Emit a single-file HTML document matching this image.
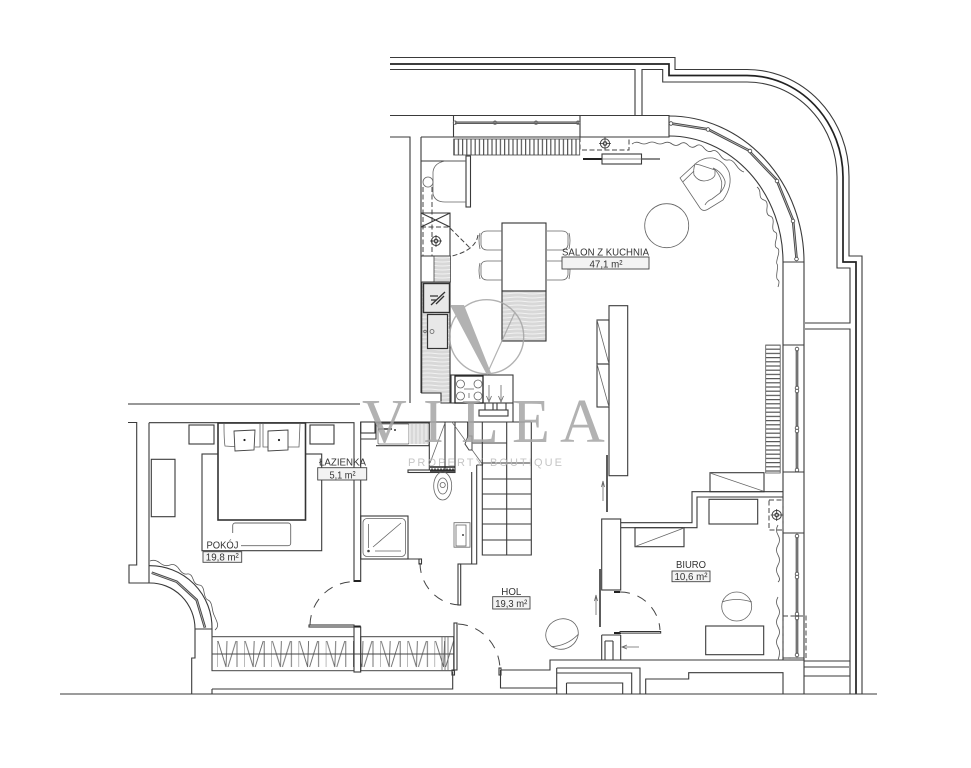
<!DOCTYPE html>
<html><head><meta charset="utf-8"><style>
html,body{margin:0;padding:0;background:#fff}
svg{display:block}
.l{fill:none;stroke:#3a3a3a;stroke-width:1.1}
.t{fill:none;stroke:#222;stroke-width:1.7}
.f{fill:none;stroke:#666;stroke-width:.8}
.d{fill:none;stroke:#444;stroke-width:1;stroke-dasharray:10 8}
.s{fill:none;stroke:#444;stroke-width:1;stroke-dasharray:5 2.5}
.w{fill:none;stroke:#555;stroke-width:.8}
text{font-family:"Liberation Sans",sans-serif;fill:#333;font-size:10.5px}
</style></head><body>
<svg width="971" height="768" viewBox="0 0 971 768" xmlns="http://www.w3.org/2000/svg">
<defs>
<pattern id="hv" width="4.2" height="8" patternUnits="userSpaceOnUse"><rect width="4.2" height="8" fill="#fff"/><rect width="1.2" height="8" fill="#555"/></pattern>
<pattern id="hh" width="8" height="4.2" patternUnits="userSpaceOnUse"><rect width="8" height="4.2" fill="#fff"/><rect width="8" height="1.2" fill="#555"/></pattern>
<pattern id="tx" width="30" height="4" patternUnits="userSpaceOnUse"><rect width="30" height="4" fill="#d8d8d8"/><path d="M0 1.500 Q8 .5 15 1.500 T30 1.500" fill="none" stroke="#f2f2f2" stroke-width="1"/></pattern>
<pattern id="txv" width="4" height="30" patternUnits="userSpaceOnUse"><rect width="4" height="30" fill="#d8d8d8"/><rect x="1.500" width="1" height="30" fill="#f5f5f5"/></pattern>
<pattern id="zz" x="217" width="27.2" height="40" y="636" patternUnits="userSpaceOnUse"><path d="M0 5V31M1 5L9 31L10 5M11 31L19 5M20 5V31" fill="none" stroke="#666" stroke-width=".9"/></pattern>
<g id="sym"><circle r="4.600" fill="none" stroke="#444"/><circle r="2.400" fill="#555"/><path d="M-6 0H6M0-6V6" stroke="#333" stroke-width=".8"/><circle r="1" fill="#ddd"/></g>
<g id="chair"><path d="M22 1H7Q2 1 1 5V15Q2 20 7 20H22" class="f"/><path d="M0 3Q-2 10 0 19" class="f"/></g>
</defs>

<!-- outer terrace lines -->
<path class="l" d="M390 57.500H675V69.500H747A102 107 0 0 1 849 177V256H862V694"/>
<path class="t" d="M390 64H669V75.500H747A96 102 0 0 1 843 177V262H856V694"/>
<path class="l" d="M390 69.500H635V115M642 115V69.500H662.700V82H747A90 95 0 0 1 837 177V268H850V323H805M805 329H850V661H804"/>

<!-- top wall -->
<path class="l" d="M390 115.500H669V137H421M390 137H410V403"/>
<path class="l" d="M453.500 115.500V137M580 115.500V137"/>
<path d="M455 122.700H579" stroke="#444" stroke-width="2.400"/>
<path d="M455 122.700H579" stroke="#aaa" stroke-width=".7"/>
<circle cx="455" cy="122.700" r="1.800" class="f" fill="#fff"/><circle cx="495" cy="122.700" r="1.800" class="f"/><circle cx="536" cy="122.700" r="1.800" class="f"/><circle cx="578" cy="122.700" r="1.800" class="f"/>
<rect x="453.700" y="139" width="126" height="16" fill="url(#hv)" stroke="#444" stroke-width=".8"/>
<path class="s" d="M580 137V150H629V137"/>
<use href="#sym" x="605" y="143.500"/>
<path d="M583 159H602" stroke="#222" stroke-width="2"/><path d="M642 159H660" stroke="#444" stroke-width="1.200"/>
<rect x="602" y="154" width="39.500" height="10" class="l"/><path d="M602 159H642" stroke="#666" stroke-width=".7"/>

<!-- curved wall -->
<path class="l" d="M669 116A135 146 0 0 1 804 262M669 136A114 126 0 0 1 783 262"/>
<path d="M670 123.300L708 129.300L748 150L776.700 180L793 220L796.700 260" fill="none" stroke="#444" stroke-width="2.600"/>
<path d="M670 123.300L708 129.300L748 150L776.700 180L793 220L796.700 260" fill="none" stroke="#bbb" stroke-width=".8"/>
<g fill="#fff" stroke="#444" stroke-width=".8"><circle cx="671" cy="123.500" r="1.800"/><circle cx="708" cy="129.500" r="1.800"/><circle cx="750" cy="151" r="1.800"/><circle cx="777" cy="181" r="1.800"/><circle cx="793" cy="221" r="1.800"/><circle cx="796.500" cy="259" r="1.800"/></g>
<path class="w" d="M632 144Q636 141 640 143T648 143T656 143T664 143T672 144T680 144T688 145T696 146T704 148T712 151T720 155T728 160T736 165T744 172"/>
<path class="w" d="M757 187Q760 189 760 194T764 200T767 208T770 216T773 224T775 232T776 240T777 248T778 256T777 264T777 272T778 280T778 287"/>

<!-- right wall -->
<path class="l" d="M783 262V660M804 262V694M783 262H804M783 345H804M783 472H804M783 533H804M783 658H804"/>
<path d="M797 348V470M797 535V656" stroke="#444" stroke-width="2.600"/><path d="M797 348V470M797 535V656" stroke="#bbb" stroke-width=".8"/>
<g fill="#fff" stroke="#444" stroke-width=".8"><circle cx="797" cy="349" r="1.800"/><circle cx="797" cy="388" r="1.800"/><circle cx="797" cy="391" r="1.800"/><circle cx="797" cy="428" r="1.800"/><circle cx="797" cy="431" r="1.800"/><circle cx="797" cy="470" r="1.800"/><circle cx="797" cy="536" r="1.800"/><circle cx="797" cy="574" r="1.800"/><circle cx="797" cy="577" r="1.800"/><circle cx="797" cy="614" r="1.800"/><circle cx="797" cy="618" r="1.800"/><circle cx="797" cy="655" r="1.800"/></g>
<rect x="783" y="616" width="23" height="42" class="s"/>
<rect x="765.700" y="345" width="14.500" height="128" fill="url(#hh)" stroke="#555" stroke-width=".8"/>

<!-- circle table -->
<circle cx="666.700" cy="225.700" r="22" class="f" stroke-width="1"/>
<!-- armchair -->
<path class="f" d="M680 178L696.700 162.700Q704 157 713 158Q724 161 729 172Q733 186 723 200L707.500 209.500Q703 212 700 208Z"/>
<path class="f" d="M683 181.700L694 171M705 205Q707 201 712 199L720 193Q726 186 725 181Q722 172 713 168"/>
<path class="f" d="M713 168Q720 174 721.700 182Q722 188 720 193"/>
<path class="f" d="M695 164Q693 170 694 175Q698 181 704 181Q713 180 715 175V170L700 165Z"/>

<!-- kitchen -->
<path class="l" d="M421 137V393"/>
<path class="l" d="M421 161H466"/>
<rect x="466" y="156" width="4.500" height="51" class="l"/>
<path class="f" d="M466 161H445Q434 163 433 172V194Q435 202 445 202H466"/>
<circle cx="428" cy="182" r="5" class="f" stroke="#444"/>
<path class="s" d="M423 187V256M432 187V256M421 227H450"/>
<path class="l" d="M421 213H450V256H421M421 213L450 227M421 227L450 213"/>
<use href="#sym" x="436" y="241"/>
<path class="s" d="M450 228L470 248"/><path class="s" d="M478 235Q476 250 452 256"/>
<rect x="434" y="256" width="16.500" height="26" fill="url(#tx)" stroke="#444" stroke-width=".8"/>
<path d="M421.700 282H450V403H441V393H421.700Z" fill="url(#tx)" stroke="#333" stroke-width="1.100"/>
<rect x="423.500" y="283.500" width="26" height="29" fill="#e8e8e8" stroke="#333" stroke-width="1.400"/>
<path d="M431 305L445 292M436 304L444 296M430 296H438M431 300H436" stroke="#333" stroke-width="1.300"/>
<rect x="427.500" y="314.500" width="20" height="34" fill="#e8e8e8" stroke="#333" stroke-width="1.200"/>
<circle cx="432" cy="331.500" r="2" class="f"/><circle cx="425" cy="331.500" r="1.300" class="f"/>
<rect x="451" y="375" width="62" height="28" fill="#fff" class="l"/>
<rect x="455" y="376" width="28" height="27" fill="#fff" stroke="#222" stroke-width="1.300"/>
<g class="f"><circle cx="460.500" cy="384" r="4"/><circle cx="478" cy="384" r="4"/><circle cx="460.500" cy="396" r="4"/><circle cx="478" cy="396" r="4"/><path d="M464 389H474M469 393V398"/></g>
<path class="f" d="M489 385V400M486.500 396L489 402L491.500 396M501 385V400M498.500 396L501 402L503.500 396"/>
<rect x="479" y="410" width="29" height="6" class="l"/>
<path class="l" d="M485 403V410M493 403V410M497 403V410M506 403V410M513 403V422"/>

<!-- dining -->
<rect x="502" y="223" width="44" height="68" fill="#fff" stroke="#333" stroke-width="1.100"/>
<rect x="502" y="291" width="44" height="50" fill="url(#tx)" stroke="#333" stroke-width="1.100"/>
<use href="#chair" x="480" y="230"/><use href="#chair" x="480" y="260"/>
<use href="#chair" transform="translate(569 230) scale(-1 1)"/><use href="#chair" transform="translate(569 260) scale(-1 1)"/>

<!-- tv unit -->
<rect x="609" y="305.700" width="18.700" height="170" fill="#fff" class="l"/>
<rect x="597" y="320" width="12" height="44" class="l"/><rect x="597" y="364" width="12" height="43" class="l"/>
<path class="f" d="M597 320L609 364M597 364L609 407"/>
<path d="M607 455V512" stroke="#333" stroke-width="1.600"/>
<path class="f" d="M603 501V483M601.500 487L603 481L604.500 487"/>

<!-- middle wall -->
<path class="l" d="M361 422H531"/>
<path d="M128 404H360" stroke="#777" stroke-width="1.400"/>
<path class="l" d="M128 422.500H136.700V565H129V583H149M149 422.700H354V582M149 422.700V583"/>
<!-- bedroom curved -->
<path class="l" d="M149 565.700A62 62 0 0 1 212 629H195M149 583A45 46 0 0 1 195 629"/>
<path d="M151.700 572.700L176.700 581.700L196.700 600L205 627.700" fill="none" stroke="#444" stroke-width="2.600"/>
<path d="M151.700 572.700L176.700 581.700L196.700 600L205 627.700" fill="none" stroke="#bbb" stroke-width=".8"/>
<path class="w" d="M150 561Q155 559 160 563T170 565T179 569T187 574T193 579T199 585T204 592T208 600T212 607T214 615T217 622T215 630"/>
<path class="l" d="M195 629V658H191.700V694H60M212 629V671"/>

<!-- bed -->
<rect x="202" y="454" width="119.700" height="96.700" class="l"/>
<rect x="218" y="423" width="87.500" height="97" fill="#fff" stroke="#333" stroke-width="1.600"/>
<rect x="189" y="425" width="25" height="19" class="l"/><rect x="310" y="425" width="24" height="19" class="l"/>
<path class="f" d="M224 424Q224 440 225 446L240 447M255 447H260V424M263 424V447H268M288 447H299L300 424"/>
<g fill="#fff" stroke="#444" stroke-width=".9"><path d="M234 431L255 430L254 450L235 451Z"/><path d="M268 431L288 430L288 450L268 451Z"/></g>
<circle cx="244.500" cy="440" r="1.100" fill="#222"/><circle cx="279" cy="440" r="1.100" fill="#222"/>
<rect x="232.700" y="523" width="58" height="22.700" rx="2.500" fill="#fff" stroke="#666" stroke-width=".9"/>
<rect x="151.300" y="459.300" width="23.700" height="57.400" class="l"/>
<rect x="203" y="533" width="38" height="15" fill="#fff"/>
<rect x="203" y="551.700" width="38.700" height="10.600" fill="#f3f3f3" stroke="#444" stroke-width=".9"/>
<text x="206.500" y="548.500" textLength="32" lengthAdjust="spacingAndGlyphs">POKÓJ</text>
<text x="222.300" y="560.500" text-anchor="middle" textLength="33" lengthAdjust="spacingAndGlyphs">19,8 m²</text>

<!-- wardrobe -->
<rect x="212" y="636.700" width="142" height="34" fill="url(#zz)" stroke="#444" stroke-width="1"/>
<rect x="360.700" y="636.700" width="93" height="34" fill="url(#zz)" stroke="#444" stroke-width="1"/>
<path d="M212 654H454" stroke="#444" stroke-width=".9"/>
<path class="f" d="M442 637V671M445 637V671M448 637V671"/>
<rect x="354" y="627" width="6.700" height="45" fill="#fff" class="l"/>
<path d="M354 626.500H360.700" stroke="#222" stroke-width="2"/>
<rect x="309" y="625" width="45" height="2" class="l"/>
<path class="d" d="M310 625A44 44 0 0 1 353 581.700"/>
<path d="M354 581H360.700" stroke="#222" stroke-width="2"/>
<rect x="454" y="623" width="3" height="47" class="l"/>
<path class="d" d="M458 624A44 46 0 0 1 500 669"/>
<rect x="499" y="668" width="2" height="7" class="l"/>
<rect x="452" y="670" width="2.500" height="5" class="l"/>
<path class="l" d="M212 689H452.700V671.700M212 689V694H452M60 694H877"/>

<!-- bottom structure -->
<path class="l" d="M500.500 670V688H556.700M500.500 670H550V660H804M556.700 668V694M556.700 668H640V694M566.500 683V694M566.500 683H622.700V694M631.700 694V673H556.700"/>
<path class="l" d="M645.700 694V679H688.700V672.700H783V694"/>
<path class="l" d="M804 667H849M804 676H850"/>
<path class="l" d="M850 661V694"/>

<!-- bathroom -->
<path class="l" d="M360.700 422V582"/>
<rect x="360.700" y="422" width="14.300" height="11" class="l"/>
<path class="l" d="M360.700 439H376V422"/>
<path d="M376 423H429V445.700H376" fill="#fff" class="l"/>
<rect x="378" y="424" width="31" height="20" rx="1" class="f"/>
<rect x="409" y="424" width="20" height="20" fill="url(#txv)"/>
<path d="M378 429H392" stroke="#333" stroke-width="1.500"/><circle cx="395" cy="430" r="1" fill="#333"/>
<path class="l" d="M429.300 422V470M445 422V470M455 422V470"/>
<path class="f" d="M430 463L445 423M451.700 421.700L483 465"/>
<path d="M430 467H455M430 471H455" stroke="#222" stroke-width="1.500"/>
<path d="M431 469H454" stroke="#555" stroke-dasharray="2 1"/>
<rect x="408" y="470" width="47" height="2.500" class="l"/>
<path d="M468 422V437" stroke="#222" stroke-width="1.600"/>
<path d="M468 436L465 444L469 450L472 450V436Z" fill="#fff" stroke="#444" stroke-width="1"/>
<path class="l" d="M476.700 465V564H460M471.700 472V564M476.700 465H483"/>
<path class="l" d="M360.700 559H420.700"/>
<rect x="419" y="559" width="2.500" height="5" class="l"/>
<rect x="458" y="564" width="2.700" height="41" class="l"/>
<path class="d" d="M420 563A41 42 0 0 0 460 605"/>
<rect x="360.700" y="516" width="47.300" height="43" class="l"/>
<rect x="363" y="518.500" width="42.500" height="38" rx="4" class="f"/>
<path class="f" d="M368.500 524V548M373 547L401 523M375 551H401"/>
<circle cx="368.500" cy="551" r="1.300" fill="#444"/>
<ellipse cx="442.700" cy="486" rx="9" ry="14" class="f" stroke="#444"/><ellipse cx="442.700" cy="486" rx="5" ry="8" class="f"/><circle cx="442.700" cy="485" r="2.600" class="f"/>
<rect x="454" y="522.700" width="16" height="24.500" class="f"/><rect x="456" y="525" width="10" height="21" class="f" stroke="#333" stroke-width="1"/>
<circle cx="463" cy="535" r="1" fill="#444"/>

<!-- stairs -->
<path class="l" d="M531.300 422V555H482.300V443M506.700 422V555M472.700 443H506.700M482.300 422V443"/>
<path class="l" d="M482.300 463H531.300M482.300 479H531.300M482.300 494H531.300M482.300 509H531.300M482.300 524H531.300M482.300 540H531.300"/>

<!-- hol chair -->
<g transform="rotate(-25 562 634)"><ellipse cx="562" cy="634" rx="16.500" ry="15" class="f" stroke="#444"/><path class="f" d="M547 641Q562 647 577 641"/></g>
<rect x="492.700" y="596.700" width="37.300" height="12.300" fill="#f3f3f3" stroke="#444" stroke-width=".9"/>
<text x="511.300" y="595" text-anchor="middle" textLength="20" lengthAdjust="spacingAndGlyphs">HOL</text>
<text x="511.300" y="607" text-anchor="middle" textLength="32" lengthAdjust="spacingAndGlyphs">19,3 m²</text>

<!-- biuro -->
<path d="M600 569V627" stroke="#333" stroke-width="1.600"/>
<path class="f" d="M596 615V597M594.500 601L596 595L597.500 601"/>
<rect x="601.700" y="519" width="19" height="71" fill="#fff" class="l"/>
<path class="l" d="M620.700 522.700H692V491.700H783M620.700 527.700H697V497H783"/>
<rect x="710" y="472.700" width="54" height="19" class="l"/><path class="f" d="M710 473L763 491"/>
<rect x="635" y="527.700" width="49" height="19" class="l"/><path class="f" d="M635 546.500L684 528"/>
<rect x="709" y="499.300" width="48.700" height="24.700" class="l"/>
<rect x="769" y="500" width="14" height="30" class="s"/>
<use href="#sym" x="776.700" y="515"/>
<rect x="705.700" y="626" width="58" height="28.700" class="l"/>
<ellipse cx="736.700" cy="606.500" rx="15" ry="14.500" class="f" stroke="#444"/>
<path class="f" d="M722 602Q736 597 752 602"/>
<path class="l" d="M601.700 635V660M620.700 635V660M601.700 635H620.700M605 641V660M613 641V660M605 641H613"/>
<path d="M614 633H621" stroke="#222" stroke-width="2"/><path d="M614 592H620" stroke="#222" stroke-width="2"/>
<path class="f" d="M639 647H623M627 645L622 647L627 649"/>
<rect x="620" y="631.500" width="40.700" height="1.600" fill="#fff" stroke="#333" stroke-width="1"/>
<path class="d" d="M620 592A40 40 0 0 1 660 630"/>
<path class="w" d="M778 525Q775 530 778 535T778 545T778 555T778 565T778 575T778 582"/>
<path class="w" d="M778 597Q775 602 778 607T778 617T778 627T778 637T778 647T778 660"/>
<rect x="672" y="571" width="38" height="10.700" fill="#f3f3f3" stroke="#444" stroke-width=".9"/>
<text x="691" y="568" text-anchor="middle" textLength="30" lengthAdjust="spacingAndGlyphs">BIURO</text>
<text x="691" y="580" text-anchor="middle" textLength="33" lengthAdjust="spacingAndGlyphs">10,6 m²</text>

<!-- labels -->
<rect x="562" y="257" width="87" height="12" fill="#f3f3f3" stroke="#444" stroke-width=".9"/>
<text x="562" y="255.500" textLength="87" lengthAdjust="spacingAndGlyphs">SALON Z KUCHNIA</text>
<text x="606" y="267.500" text-anchor="middle" textLength="33" lengthAdjust="spacingAndGlyphs">47,1 m²</text>
<rect x="317.700" y="467.700" width="49" height="12.300" fill="#f3f3f3" stroke="#444" stroke-width=".9"/>
<text x="319" y="465.500" textLength="47" lengthAdjust="spacingAndGlyphs">ŁAZIENKA</text>
<text x="342.500" y="478.500" text-anchor="middle" textLength="26" lengthAdjust="spacingAndGlyphs">5,1 m²</text>

<!-- watermark -->
<g opacity=".85">
<circle cx="486.700" cy="336.700" r="37" fill="none" stroke="#a5a5a5" stroke-width="1.400"/>
<path d="M450 305H464L491 373L487 375Z" fill="#a5a5a5"/>
<path d="M487 374L515 312" stroke="#a5a5a5" stroke-width="1.200"/>
<text x="362" y="442" style="font-family:'Liberation Serif',serif;font-size:62px;fill:#a5a5a5">V</text>
<text x="423" y="442" style="font-family:'Liberation Serif',serif;font-size:62px;fill:#a5a5a5">I</text>
<text x="461" y="442" style="font-family:'Liberation Serif',serif;font-size:62px;fill:#a5a5a5">L</text>
<text x="512" y="442" style="font-family:'Liberation Serif',serif;font-size:62px;fill:#a5a5a5">E</text>
<text x="560" y="442" style="font-family:'Liberation Serif',serif;font-size:62px;fill:#a5a5a5">A</text>
<text x="408" y="466" textLength="154" style="font-size:11px;fill:#bbb">PROPERTY BOUTIQUE</text>
</g>
</svg>
</body></html>
